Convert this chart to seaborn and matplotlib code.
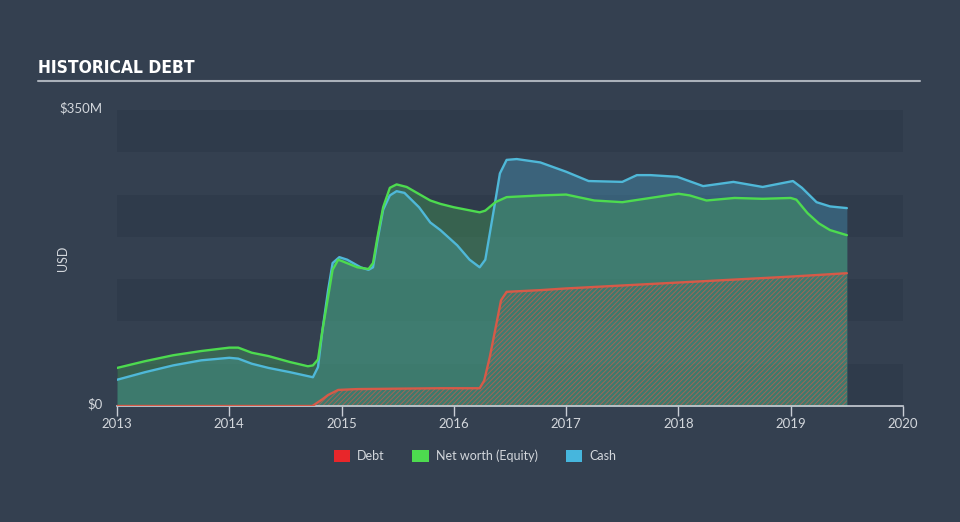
import numpy as np
import pandas as pd
import matplotlib
matplotlib.use("Agg")
import matplotlib.pyplot as plt
from matplotlib import font_manager
from matplotlib.patches import Patch
import seaborn as sns

# ---- data (values in $M, dates as fractional years) ----
debt_dates = [2013.0, 2014.74, 2014.83, 2014.88, 2014.97, 2015.14, 2015.88, 2016.23, 2016.27,
              2016.32, 2016.38, 2016.42, 2016.47, 2016.77, 2017.0, 2018.0, 2019.0, 2019.5]
debt = [0, 0, 8, 13, 19, 20, 21, 21, 30,
        58, 98, 125, 135, 137, 139, 146, 153, 157]

equity_dates = [2013.0, 2013.25, 2013.5, 2013.75, 2014.0, 2014.08, 2014.2, 2014.35, 2014.54,
                2014.7, 2014.745, 2014.79, 2014.83, 2014.88, 2014.92, 2014.97, 2015.01, 2015.14,
                2015.24, 2015.28, 2015.32, 2015.37, 2015.43, 2015.49, 2015.58, 2015.79, 2015.88,
                2016.0, 2016.23, 2016.28, 2016.37, 2016.47, 2016.77, 2017.0, 2017.25, 2017.5,
                2017.75, 2018.0, 2018.1, 2018.25, 2018.5, 2018.75, 2019.0, 2019.05, 2019.15,
                2019.25, 2019.35, 2019.5]
equity = [45, 53, 60, 65, 69, 69, 63, 59, 52,
          47, 48, 55, 90, 129, 161, 173, 171, 164,
          162, 169, 200, 235, 258, 262, 259, 243, 239,
          235, 229, 231, 241, 247, 249, 250, 243, 241,
          246, 251, 249, 243, 246, 245, 246, 244, 228,
          216, 208, 202]

cash_dates = [2013.0, 2013.25, 2013.5, 2013.75, 2014.0, 2014.08, 2014.2, 2014.35, 2014.54,
              2014.745, 2014.79, 2014.83, 2014.88, 2014.92, 2014.98, 2015.05, 2015.17, 2015.24,
              2015.28, 2015.32, 2015.37, 2015.43, 2015.49, 2015.56, 2015.69, 2015.79, 2015.88,
              2016.03, 2016.14, 2016.23, 2016.28, 2016.32, 2016.37, 2016.41, 2016.47, 2016.56,
              2016.77, 2017.0, 2017.2, 2017.5, 2017.63, 2017.75, 2017.99, 2018.22, 2018.49,
              2018.75, 2019.02, 2019.1, 2019.23, 2019.35, 2019.5]
cash = [31, 40, 48, 54, 57, 56, 50, 45, 40,
        34, 46, 90, 137, 169, 176, 173, 164, 161,
        164, 196, 232, 249, 254, 252, 235, 217, 208,
        190, 173, 164, 173, 204, 243, 275, 291, 292,
        288, 277, 266, 265, 273, 273, 271, 260, 265,
        259, 266, 258, 241, 236, 234]

year_ticks = [2013, 2014, 2015, 2016, 2017, 2018, 2019, 2020]
series_names = ["Debt", "Net worth (Equity)", "Cash"]
series_colors = ["#e8262a", "#4ddb4f", "#46b6dd"]

long = pd.concat([
    pd.DataFrame({"date": debt_dates, "value": debt, "series": "Debt"}),
    pd.DataFrame({"date": cash_dates, "value": cash, "series": "Cash"}),
    pd.DataFrame({"date": equity_dates, "value": equity, "series": "Net worth (Equity)"}),
], ignore_index=True)

BG = "#344050"
BAND = "#2f3b4b"
TXT = "#d3d7dc"

sns.set_theme(style="dark")
plt.rcParams["font.family"] = ["Lato", "DejaVu Sans"]

fig = plt.figure(figsize=(9.6, 5.22), dpi=100, facecolor=BG)
ax = fig.add_axes([117 / 960, 1 - 406 / 522, (903 - 117) / 960, (406 - 110) / 522])
ax.set_facecolor(BG)

# alternating bands
for lo in [0, 100, 200, 300]:
    ax.axhspan(lo, lo + 50, color=BAND, lw=0, zorder=0)

# fills
ax.fill_between(cash_dates, 0, cash, color="#4aa5cc", alpha=0.35, lw=0, zorder=1)
ax.fill_between(equity_dates, 0, equity, color="#49b25a", alpha=0.33, lw=0, zorder=1)
matplotlib.rcParams["hatch.linewidth"] = 0.7
ax.fill_between(debt_dates, 0, debt, facecolor="none", edgecolor="#c0604e",
                hatch="///////", lw=0, alpha=0.75, zorder=2)

# lines through seaborn
line_colors = {"Debt": "#d65a48", "Net worth (Equity)": "#4ddb4f", "Cash": "#4fb8d8"}
sns.lineplot(data=long, x="date", y="value", hue="series", palette=line_colors,
             hue_order=["Debt", "Cash", "Net worth (Equity)"], lw=1.7, ax=ax,
             legend=False, zorder=3, sort=True, estimator=None)

ax.set_xlim(2013, 2020)
ax.set_ylim(0, 350)
ax.set_xticks(year_ticks)
ax.set_xticklabels([str(y) for y in year_ticks], color=TXT, fontsize=9.5)
ax.set_yticks([])
ax.set_xlabel("")
ax.set_ylabel("")
for s in ["top", "right", "left"]:
    ax.spines[s].set_visible(False)
ax.spines["bottom"].set_color("#c9ced6")
ax.spines["bottom"].set_linewidth(1.2)
ax.tick_params(axis="x", colors="#c9ced6", length=7, width=1, direction="out", pad=2,
               labelcolor=TXT, bottom=True)
ax.grid(False)

# y labels
fig.text(103 / 960, 1 - 108 / 522, "$350M", color=TXT, fontsize=9.5, ha="right", va="center")
fig.text(103 / 960, 1 - 404 / 522, "$0", color=TXT, fontsize=9.5, ha="right", va="center")
fig.text(63 / 960, 1 - 258 / 522, "USD", color=TXT, fontsize=9, ha="center", va="center",
         rotation=90)

# title (pick a condensed face if one is installed)
fl = font_manager.fontManager.ttflist
names = {f.name for f in fl}
title_kw = dict(family=["DejaVu Sans"], fontsize=11.5)
if "Liberation Sans Narrow" in names:
    title_kw = dict(family=["Liberation Sans Narrow"], fontsize=13.5)
elif any(f.name == "DejaVu Sans" and f.stretch == "condensed" for f in fl):
    title_kw = dict(family=["DejaVu Sans"], fontstretch="condensed", fontsize=12.5)
fig.text(38 / 960, 1 - 68 / 522, "HISTORICAL DEBT", color="white", fontweight="bold",
         ha="left", va="center", **title_kw)
fig.add_artist(plt.Line2D([38 / 960, 920 / 960], [1 - 81 / 522, 1 - 81 / 522],
                          color="#aab1ba", lw=1.5))

# legend
handles = [Patch(facecolor=c, edgecolor="none") for c in series_colors]
leg = fig.legend(handles, series_names, loc="center", bbox_to_anchor=(475 / 960, 1 - 456 / 522),
                 ncol=3, frameon=False, fontsize=9, handlelength=1.3, handleheight=1.1,
                 columnspacing=2.2, handletextpad=0.6)
for t in leg.get_texts():
    t.set_color(TXT)

fig.savefig("out.png", dpi=100, facecolor=BG)
